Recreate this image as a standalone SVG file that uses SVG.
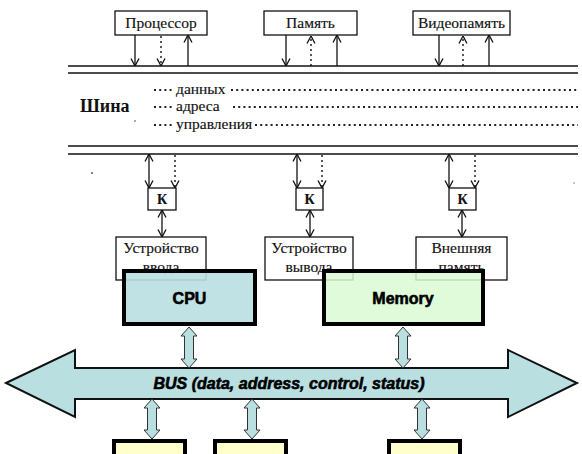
<svg xmlns="http://www.w3.org/2000/svg" width="582" height="454" viewBox="0 0 582 454">
<style>
.ln{stroke:#111;stroke-width:1.3;fill:none}
.bus{stroke:#111;stroke-width:1.6;fill:none}
.dot{stroke:#111;stroke-width:1.4;fill:none;stroke-dasharray:2 3}
.lead{stroke:#222;stroke-width:1.8;fill:none;stroke-dasharray:2 3.2}
.box{fill:#fff;stroke:#111;stroke-width:1.3}
.ru{font-family:"Liberation Serif","Times New Roman",serif;font-size:15.5px;fill:#111;stroke:#111;stroke-width:0.15}
.cn{text-anchor:middle}
.thick{stroke:#000;stroke-width:4}
.da{fill:#b9dfe1;stroke:#333;stroke-width:1}
.en{font-family:"Liberation Sans",Arial,sans-serif;font-weight:bold;font-size:16px;fill:#000;stroke:#000;stroke-width:0.6}
</style>
<defs>
<marker id="ah" viewBox="0 0 8 10" refX="8" refY="5" markerWidth="8" markerHeight="10" markerUnits="userSpaceOnUse" orient="auto-start-reverse">
<path d="M0.5,1 L8,5 L0.5,9" fill="none" stroke="#111" stroke-width="1.3"/>
</marker>
</defs>

<!-- system bus (top diagram) -->
<g id="shina">
<line class="bus" x1="68" y1="66" x2="578" y2="66"/>
<line class="bus" x1="68" y1="73" x2="578" y2="73"/>
<line class="bus" x1="68" y1="146" x2="578" y2="146"/>
<line class="bus" x1="68" y1="154" x2="578" y2="154"/>
<text x="80" y="112" style="font-family:'Liberation Serif','Times New Roman',serif;font-size:18px;font-weight:bold;fill:#111">Шина</text>
<line class="lead" x1="154" y1="90" x2="172" y2="90"/>
<text class="ru" x="176" y="94">данных</text>
<line class="lead" x1="231" y1="90" x2="578" y2="90"/>
<line class="lead" x1="154" y1="107" x2="172" y2="107"/>
<text class="ru" x="176" y="111">адреса</text>
<line class="lead" x1="233" y1="107" x2="578" y2="107"/>
<line class="lead" x1="154" y1="125" x2="172" y2="125"/>
<text class="ru" x="176" y="129">управления</text>
<line class="lead" x1="255" y1="125" x2="578" y2="125"/>
<circle cx="135" cy="121" r="0.8" fill="#444"/>
<circle cx="92" cy="173" r="0.9" fill="#444"/>
<circle cx="574" cy="183" r="0.7" fill="#666"/>
</g>

<g id="processor">
<rect class="box" x="115" y="11" width="92" height="24"/>
<text class="ru cn" x="161" y="28">Процессор</text>
</g>
<g id="pamyat">
<rect class="box" x="264" y="11" width="93" height="24"/>
<text class="ru cn" x="310.5" y="28">Память</text>
</g>
<g id="videopamyat">
<rect class="box" x="413" y="11" width="97" height="24"/>
<text class="ru cn" x="461.5" y="28">Видеопамять</text>
</g>

<g id="k1">
<rect class="box" x="148" y="188" width="28" height="22"/>
<text class="ru cn" x="162" y="204" style="font-weight:bold;font-size:14px">К</text>
</g>
<g id="k2">
<rect class="box" x="296" y="188" width="27" height="22"/>
<text class="ru cn" x="309.5" y="204" style="font-weight:bold;font-size:14px">К</text>
</g>
<g id="k3">
<rect class="box" x="449" y="188" width="27" height="22"/>
<text class="ru cn" x="462.5" y="204" style="font-weight:bold;font-size:14px">К</text>
</g>

<g id="dev-input">
<rect class="box" x="116" y="237" width="90" height="43"/>
<text class="ru cn" x="161" y="253">Устройство</text>
<text class="ru cn" x="161" y="272">ввода</text>
</g>
<g id="dev-output">
<rect class="box" x="265" y="237" width="88" height="43"/>
<text class="ru cn" x="309" y="253">Устройство</text>
<text class="ru cn" x="309" y="272">вывода</text>
</g>
<g id="dev-ext">
<rect class="box" x="416" y="237" width="91" height="43"/>
<text class="ru cn" x="461.5" y="253">Внешняя</text>
<text class="ru cn" x="461.5" y="272">память</text>
</g>

<g id="connectors-top">
<line class="ln" x1="135" y1="35" x2="135" y2="66" marker-end="url(#ah)"/>
<line class="dot" x1="161" y1="36" x2="161" y2="66" marker-end="url(#ah)"/>
<line class="ln" x1="188" y1="66" x2="188" y2="35" marker-end="url(#ah)"/>
<line class="ln" x1="286" y1="35" x2="286" y2="66" marker-end="url(#ah)"/>
<line class="dot" x1="311" y1="66" x2="311" y2="36" marker-end="url(#ah)"/>
<line class="ln" x1="337" y1="66" x2="337" y2="35" marker-end="url(#ah)"/>
<line class="ln" x1="439" y1="35" x2="439" y2="66" marker-end="url(#ah)"/>
<line class="dot" x1="463" y1="66" x2="463" y2="36" marker-end="url(#ah)"/>
<line class="ln" x1="489" y1="66" x2="489" y2="35" marker-end="url(#ah)"/>
<line class="ln" x1="149" y1="154" x2="149" y2="188" marker-start="url(#ah)" marker-end="url(#ah)"/>
<line class="dot" x1="175" y1="155" x2="175" y2="188" marker-end="url(#ah)"/>
<line class="ln" x1="297" y1="154" x2="297" y2="188" marker-start="url(#ah)" marker-end="url(#ah)"/>
<line class="dot" x1="322" y1="155" x2="322" y2="188" marker-end="url(#ah)"/>
<line class="ln" x1="449" y1="154" x2="449" y2="188" marker-start="url(#ah)" marker-end="url(#ah)"/>
<line class="dot" x1="475" y1="155" x2="475" y2="188" marker-end="url(#ah)"/>
<line class="ln" x1="162" y1="210" x2="162" y2="237" marker-start="url(#ah)" marker-end="url(#ah)"/>
<line class="ln" x1="310" y1="210" x2="310" y2="237" marker-start="url(#ah)" marker-end="url(#ah)"/>
<line class="ln" x1="462" y1="210" x2="462" y2="237" marker-start="url(#ah)" marker-end="url(#ah)"/>
</g>

<!-- bottom diagram -->
<g id="cpu">
<rect class="thick" x="124" y="271" width="131" height="53" fill="#b9dfe1" fill-opacity="0.9"/>
<text class="en cn" x="189.5" y="304">CPU</text>
</g>
<g id="memory">
<rect class="thick" x="324" y="271" width="159" height="53" fill="#d9fad3" fill-opacity="0.85"/>
<text class="en cn" x="403" y="304">Memory</text>
</g>
<g id="bus">
<path d="M6,383 L75,350 L75,368 L508,368 L508,350 L577,383 L508,417 L508,399 L75,399 L75,417 Z" fill="#b9dfe1" stroke="#111" stroke-width="2" stroke-linejoin="miter"/>
<text class="en cn" x="289" y="389" style="font-style:italic">BUS (data, address, control, status)</text>
</g>
<g id="io1"><rect class="thick" x="114" y="441" width="71" height="30" fill="#ffffcc"/></g>
<g id="io2"><rect class="thick" x="215" y="441" width="71" height="30" fill="#ffffcc"/></g>
<g id="io3"><rect class="thick" x="389" y="441" width="71" height="30" fill="#ffffcc"/></g>

<g id="connectors-bottom">
<path class="da" d="M189,327 L197,336 L193.5,336 L193.5,359 L197,359 L189,368 L181,359 L184.5,359 L184.5,336 L181,336 Z"/>
<path class="da" d="M403,327 L411,336 L407.5,336 L407.5,359 L411,359 L403,368 L395,359 L398.5,359 L398.5,336 L395,336 Z"/>
<path class="da" d="M152,399 L160,408 L156.5,408 L156.5,430 L160,430 L152,439 L144,430 L147.5,430 L147.5,408 L144,408 Z"/>
<path class="da" d="M252,399 L260,408 L256.5,408 L256.5,430 L260,430 L252,439 L244,430 L247.5,430 L247.5,408 L244,408 Z"/>
<path class="da" d="M422,399 L430,408 L426.5,408 L426.5,430 L430,430 L422,439 L414,430 L417.5,430 L417.5,408 L414,408 Z"/>
</g>
</svg>
